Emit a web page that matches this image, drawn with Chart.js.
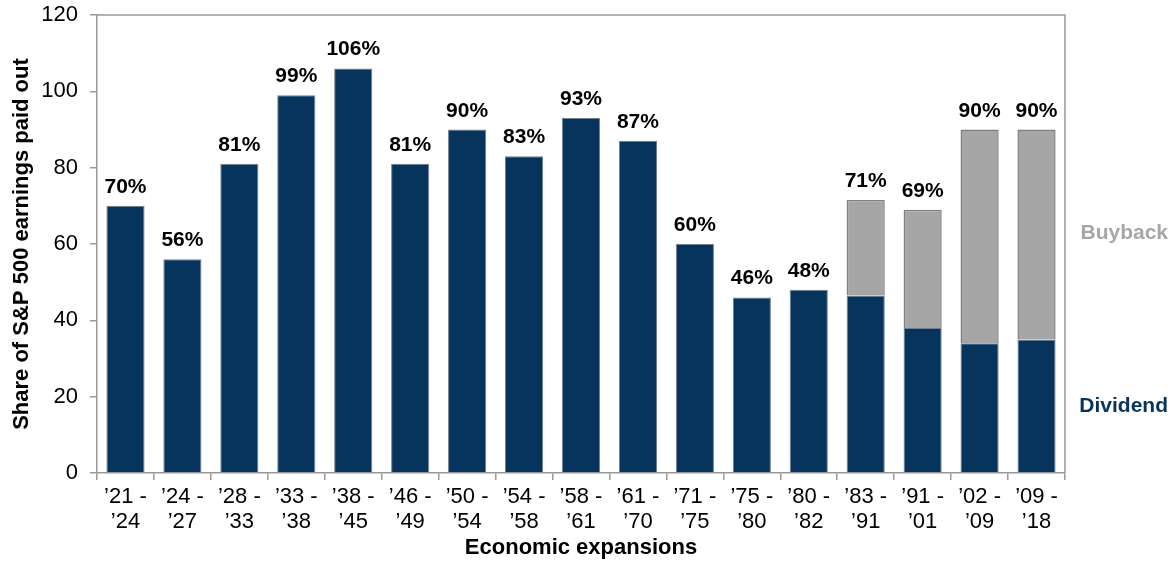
<!DOCTYPE html>
<html>
<head>
<meta charset="utf-8">
<script src="https://cdn.jsdelivr.net/npm/chart.js@4.4.0/dist/chart.umd.min.js"></script>
<style>
  html, body { margin: 0; padding: 0; background: #fff; }
  #wrap { width: 1174px; height: 566px; }
</style>
</head>
<body>
<div id="wrap"><canvas id="chart"></canvas></div>
<script>
// data
const categories = [
  ['\u201921 -', '\u201924'], ['\u201924 -', '\u201927'], ['\u201928 -', '\u201933'], ['\u201933 -', '\u201938'],
  ['\u201938 -', '\u201945'], ['\u201946 -', '\u201949'], ['\u201950 -', '\u201954'], ['\u201954 -', '\u201958'],
  ['\u201958 -', '\u201961'], ['\u201961 -', '\u201970'], ['\u201971 -', '\u201975'], ['\u201975 -', '\u201980'],
  ['\u201980 -', '\u201982'], ['\u201983 -', '\u201991'], ['\u201991 -', '\u201901'], ['\u201902 -', '\u201909'],
  ['\u201909 -', '\u201918']
];
const dividend = [70, 56, 81, 99, 106, 81, 90, 83, 93, 87, 60, 46, 48, 46.5, 38, 34, 35];
const buyback  = [null, null, null, null, null, null, null, null, null, null, null, null, null, 25, 31, 56, 55];
const totalLabels = ['70%', '56%', '81%', '99%', '106%', '81%', '90%', '83%', '93%', '87%', '60%', '46%', '48%', '71%', '69%', '90%', '90%'];

const navy = '#06345c';
const grey = '#a6a6a6';
const axisGrey = '#9a9a9a';
const fam = '"Liberation Sans", Arial, sans-serif';

//Plugin: box, value labels and the side legend
const extras = {
  id: 'extras',
  afterDatasetsDraw(chart) {
    const ctx = chart.ctx;
    const a = chart.chartArea;
    const x = chart.scales.x, y = chart.scales.y;
    ctx.save();
    ctx.strokeStyle = axisGrey;
    ctx.lineWidth = 1.5;
    ctx.beginPath();
    ctx.moveTo(a.left, a.top);
    ctx.lineTo(a.right, a.top);
    ctx.lineTo(a.right, a.bottom);
    ctx.stroke();

    ctx.fillStyle = '#000';
    ctx.font = 'bold 21px ' + fam;
    ctx.textAlign = 'center';
    ctx.textBaseline = 'alphabetic';
    for (let i = 0; i < categories.length; i++) {
      const tot = dividend[i] + (buyback[i] || 0);
      ctx.fillText(totalLabels[i], x.getPixelForValue(i), y.getPixelForValue(tot) - 13);
    }

    ctx.textAlign = 'right';
    ctx.textBaseline = 'middle';
    ctx.font = 'bold 21px ' + fam;
    ctx.fillStyle = grey;
    ctx.fillText('Buyback', 1168, y.getPixelForValue(62.7));
    ctx.fillStyle = navy;
    ctx.fillText('Dividend', 1168, y.getPixelForValue(17.4));
    ctx.restore();
  }
};

const xTickFont = { family: fam, size: 22, lineHeight: 1.15 };
const yTickFont = { family: fam, size: 22, lineHeight: 1 };
const titleFont = { family: fam, size: 22, weight: 'bold' };

const config = {
  type: 'bar',
  data: {
    labels: categories,
    datasets: [
      { label: 'Dividend', data: dividend, backgroundColor: navy, borderColor: '#6f7f8f', borderWidth: 1 },
      { label: 'Buyback', data: buyback, backgroundColor: grey, borderColor: '#7f7f7f', borderWidth: 1.5 }
    ]
  },
  options: {
    responsive: true,
    maintainAspectRatio: false,
    animation: false,
    barPercentage: 1,
    categoryPercentage: 0.67,
    layout: { padding: { left: 0, right: 109, top: 15, bottom: 0 } },
    plugins: { legend: { display: false }, tooltip: { enabled: false } },
    scales: {
      x: {
        stacked: true,
        grid: { drawOnChartArea: false, color: axisGrey, tickLength: 7, lineWidth: 1.5 },
        border: { color: axisGrey, width: 1.5 },
        ticks: { color: '#000', font: xTickFont, maxRotation: 0, padding: 4 },
        title: { display: true, text: 'Economic expansions', color: '#000', font: titleFont, padding: { top: 0, bottom: 5 } },
        afterFit(scale) { scale.height = 93; }
      },
      y: {
        stacked: true,
        min: 0, max: 120,
        grid: { drawOnChartArea: false, color: axisGrey, tickLength: 7, lineWidth: 1.5 },
        border: { color: axisGrey, width: 1.5 },
        ticks: { stepSize: 20, color: '#000', font: yTickFont, padding: 12 },
        title: { display: true, text: 'Share of S&P 500 earnings paid out', color: '#000', font: titleFont, padding: { top: 9, bottom: 4 } },
        afterFit(scale) { scale.width = 97; scale.paddingTop = 0; }
      }
    }
  },
  plugins: [extras]
};

new Chart(document.getElementById('chart'), config);
</script>
</body>
</html>
